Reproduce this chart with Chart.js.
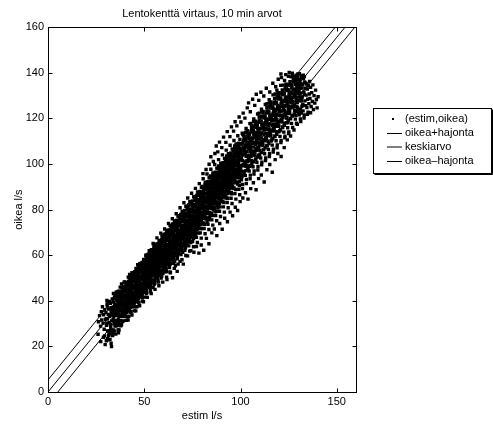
<!DOCTYPE html>
<html lang="fi">
<head>
<meta charset="utf-8">
<title>Lentokenttä virtaus</title>
<script src="https://cdn.jsdelivr.net/npm/chart.js@4.4.1/dist/chart.umd.min.js"></script>
<style>
  html, body { margin: 0; padding: 0; background: #fff; }
  canvas { display: block; }
</style>
</head>
<body>
<canvas id="virtausKuva" width="493" height="426"></canvas>
<script>
// akselien jaot
const xTiks = [0, 50, 100, 150];
const yTiks = [0, 20, 40, 60, 80, 100, 120, 140, 160];

// suorat: oikea = kulmakerroin * estim + vakio (+/- hajonta)
const kulmakerroin = 1.037;
const vakio = 0;
const hajonta = 5.3;
const viivanX = [0, 160];

const selitteet = ["(estim,oikea)", "oikea+hajonta", "keskiarvo", "oikea\u2013hajonta"];

// mittauspisteet [estim, oikea], luettu kuvasta
const alkuPisteet = [
  [26.2,30.8],[26.8,33.5],[27.3,28.9],[27.7,35.2],[27.9,31.6],
  [28.3,37.4],[28.6,30.2],[28.9,33.9],[29.2,27.5],[29.5,36.1],[29.8,31.9],[29.4,24.6],
  [30.1,34.8],[30.4,29.3],[30.7,38.6],[30.9,32.1],[31.2,26.8],[31.5,36.4],[31.8,30.5],[31.3,22.9],[30.6,40.2],
  [32.1,33.7],[32.4,38.9],[32.6,28.4],[32.9,35.6],[33.1,31.2],[33.4,40.8],[33.7,26.1],[33.9,37.3],[32.8,21.4],[33.5,34.2],
  [26.0,25.3],[27.4,22.1],[28.8,24.0],[29.7,20.8],[30.9,23.4],[32.2,25.7],[33.0,19.9],[34.1,27.2],[35.6,29.3],[36.6,26.0]
];

const keskiPisteet = [
  [34.1,36.9],[34.3,31.4],[34.6,41.7],[34.8,28.9],[35.0,38.2],[35.3,33.8],[35.5,43.1],[35.8,30.6],[35.2,25.4],[34.5,35.2],[35.9,39.9],
  [36.1,34.5],[36.3,40.6],[36.5,31.9],[36.8,44.2],[37.0,37.4],[37.2,29.8],[37.4,42.1],[37.6,35.7],[37.8,39.3],[36.9,27.2],[37.5,46.0],[36.4,38.1],
  [38.1,36.2],[38.3,42.8],[38.5,33.4],[38.7,45.6],[38.9,39.1],[39.1,31.2],[39.3,44.0],[39.5,37.5],[39.7,48.3],[39.9,34.9],[38.6,40.7],[39.4,41.9],[38.2,29.5],
  [40.1,38.6],[40.3,44.9],[40.5,35.1],[40.7,47.2],[40.9,41.4],[41.1,33.0],[41.3,46.1],[41.5,39.3],[41.7,50.4],[41.9,36.8],[40.4,42.3],[41.2,43.6],[40.8,37.7],[41.6,31.6],
  [42.1,40.2],[42.3,46.8],[42.5,37.0],[42.7,49.1],[42.9,43.5],[43.1,35.2],[43.3,48.0],[43.5,41.6],[43.7,52.3],[43.9,38.7],[42.4,44.6],[43.2,45.4],[42.8,39.5],[43.6,33.8],[43.0,50.6],
  [44.1,42.4],[44.3,48.7],[44.5,39.0],[44.7,51.4],[44.9,45.3],[45.1,37.4],[45.3,50.1],[45.5,43.2],[45.7,54.2],[45.9,40.9],[44.4,46.6],[45.2,47.5],[44.8,41.3],[45.6,35.6],[45.0,52.8],[45.8,44.7],
  [46.1,44.3],[46.3,50.9],[46.5,41.2],[46.7,53.3],[46.9,47.6],[47.1,39.1],[47.3,52.0],[47.5,45.4],[47.7,56.3],[47.9,42.8],[46.4,48.5],[47.2,49.3],[46.8,43.1],[47.6,37.8],[47.0,54.9],[47.8,46.6],
  [48.1,46.5],[48.3,52.7],[48.5,43.0],[48.7,55.6],[48.9,49.4],[49.1,41.3],[49.3,54.2],[49.5,47.3],[49.7,58.1],[49.9,44.6],[48.4,50.6],[49.2,51.1],[48.8,45.2],[49.6,39.6],[49.0,56.8],[49.8,48.7],
  [50.1,48.2],[50.3,54.6],[50.5,45.1],[50.7,57.4],[50.9,51.5],[51.1,43.2],[51.3,56.0],[51.5,49.6],[51.7,60.2],[51.9,46.4],[50.4,52.3],[51.2,53.3],[50.8,47.0],[51.6,41.5],[51.0,58.7],[51.8,50.9],
  [52.1,50.6],[52.3,56.4],[52.5,47.2],[52.7,59.3],[52.9,53.1],[53.1,45.3],[53.3,58.2],[53.5,51.4],[53.7,62.4],[53.9,48.5],[52.4,54.7],[53.2,55.1],[52.8,49.1],[53.6,43.2],[53.0,60.6],[53.8,52.8],[52.6,62.0],
  [54.1,52.3],[54.3,58.8],[54.5,49.0],[54.7,61.2],[54.9,55.4],[55.1,47.1],[55.3,60.3],[55.5,53.5],[55.7,64.7],[55.9,50.3],[54.4,56.6],[55.2,57.2],[54.8,51.2],[55.6,45.0],[55.0,62.8],[55.8,54.9],[54.6,65.1],
  [56.1,54.5],[56.3,60.7],[56.5,51.1],[56.7,63.4],[56.9,57.2],[57.1,49.0],[57.3,62.4],[57.5,55.6],[57.7,66.5],[57.9,52.4],[56.4,58.8],[57.2,59.0],[56.8,53.3],[57.6,46.6],[57.0,64.9],[57.8,56.7],[56.6,67.6],
  [58.1,56.2],[58.3,62.9],[58.5,53.0],[58.7,65.6],[58.9,59.3],[59.1,50.8],[59.3,64.5],[59.5,57.4],[59.7,68.4],[59.9,54.3],[58.4,60.7],[59.2,61.2],[58.8,55.0],[59.6,48.2],[59.0,66.8],[59.8,58.6],[58.6,69.7],[59.4,52.1],
  [60.1,58.3],[60.3,64.8],[60.5,54.9],[60.7,67.5],[60.9,61.2],[61.1,52.7],[61.3,66.3],[61.5,59.5],[61.7,70.6],[61.9,56.2],[60.4,62.6],[61.2,63.4],[60.8,57.1],[61.6,50.4],[61.0,68.9],[61.8,60.8],[60.6,71.5],[61.4,54.0],
  [62.1,60.4],[62.3,67.0],[62.5,56.8],[62.7,69.7],[62.9,63.3],[63.1,54.6],[63.3,68.2],[63.5,61.3],[63.7,72.8],[63.9,58.1],[62.4,64.5],[63.2,65.6],[62.8,59.0],[63.6,52.3],[63.0,71.1],[63.8,62.7],[62.6,73.9],[63.4,56.0],
  [64.1,62.2],[64.3,68.9],[64.5,58.7],[64.7,71.8],[64.9,65.4],[65.1,56.5],[65.3,70.4],[65.5,63.2],[65.7,74.9],[65.9,60.0],[64.4,66.7],[65.2,67.4],[64.8,61.1],[65.6,54.2],[65.0,73.2],[65.8,64.6],[64.6,76.0],[65.4,58.0],
  [66.1,64.4],[66.3,71.0],[66.5,60.6],[66.7,73.7],[66.9,67.3],[67.1,58.4],[67.3,72.5],[67.5,65.4],[67.7,77.1],[67.9,62.1],[66.4,68.6],[67.2,69.5],[66.8,63.0],[67.6,56.1],[67.0,75.3],[67.8,66.8],[66.6,78.2],[67.4,60.2],
  [68.1,66.3],[68.3,73.1],[68.5,62.5],[68.7,75.9],[68.9,69.4],[69.1,60.3],[69.3,74.6],[69.5,67.2],[69.7,79.3],[69.9,64.0],[68.4,70.7],[69.2,71.3],[68.8,65.1],[69.6,58.0],[69.0,77.4],[69.8,68.6],[68.6,80.8],[69.4,62.3],
  [70.1,68.5],[70.3,75.0],[70.5,64.4],[70.7,78.1],[70.9,71.5],[71.1,62.2],[71.3,76.7],[71.5,69.3],[71.7,81.4],[71.9,66.1],[70.4,72.6],[71.2,73.5],[70.8,67.0],[71.6,59.9],[71.0,79.6],[71.8,70.7],[70.6,83.0],[71.4,64.1],
  [72.1,70.4],[72.3,77.2],[72.5,66.3],[72.7,80.0],[72.9,73.6],[73.1,64.1],[73.3,78.8],[73.5,71.4],[73.7,83.5],[73.9,68.2],[72.4,74.7],[73.2,75.4],[72.8,69.1],[73.6,61.8],[73.0,81.7],[73.8,72.6],[72.6,85.1],[73.4,66.0],
  [74.1,72.6],[74.3,79.1],[74.5,68.2],[74.7,82.2],[74.9,75.5],[75.1,66.0],[75.3,80.9],[75.5,73.3],[75.7,85.6],[75.9,70.1],[74.4,76.8],[75.2,77.6],[74.8,71.0],[75.6,63.7],[75.0,83.8],[75.8,74.8],[74.6,87.2],[75.4,67.9],
  [76.1,74.5],[76.3,81.3],[76.5,70.1],[76.7,84.1],[76.9,77.6],[77.1,67.9],[77.3,83.0],[77.5,75.4],[77.7,87.7],[77.9,72.2],[76.4,78.7],[77.2,79.5],[76.8,73.1],[77.6,65.6],[77.0,85.9],[77.8,76.7],[76.6,89.3],[77.4,69.8],
  [78.1,76.6],[78.3,83.2],[78.5,72.0],[78.7,86.3],[78.9,79.5],[79.1,69.8],[79.3,85.1],[79.5,77.3],[79.7,89.8],[79.9,74.1],[78.4,80.8],[79.2,81.6],[78.8,75.0],[79.6,67.5],[79.0,88.0],[79.8,78.6],[78.6,91.4],[79.4,71.7],
  [80.1,78.4],[80.3,85.3],[80.5,74.1],[80.7,88.2],[80.9,81.6],[81.1,71.7],[81.3,87.2],[81.5,79.2],[81.7,91.9],[81.9,76.0],[80.4,82.7],[81.2,83.5],[80.8,77.1],[81.6,69.4],[81.0,90.1],[81.8,80.5],[80.6,93.5],[81.4,73.6],
  [82.1,80.5],[82.3,87.2],[82.5,76.0],[82.7,90.4],[82.9,83.5],[83.1,73.6],[83.3,89.1],[83.5,81.3],[83.7,94.0],[83.9,78.1],[82.4,84.6],[83.2,85.6],[82.8,79.0],[83.6,71.3],[83.0,92.2],[83.8,82.4],[82.6,95.6],[83.4,75.5],
  [84.1,82.3],[84.3,89.4],[84.5,77.9],[84.7,92.3],[84.9,85.6],[85.1,75.5],[85.3,91.2],[85.5,83.2],[85.7,96.1],[85.9,80.0],[84.4,86.7],[85.2,87.5],[84.8,81.1],[85.6,73.2],[85.0,94.3],[85.8,84.5],[84.6,97.7],[85.4,77.4],
  [86.1,84.4],[86.3,91.3],[86.5,79.8],[86.7,94.5],[86.9,87.5],[87.1,77.4],[87.3,93.3],[87.5,85.3],[87.7,98.2],[87.9,82.1],[86.4,88.8],[87.2,89.4],[86.8,83.0],[87.6,75.1],[87.0,96.4],[87.8,86.4],[86.6,99.8],[87.4,79.3],
  [88.1,86.5],[88.3,93.5],[88.5,81.7],[88.7,96.4],[88.9,89.6],[89.1,79.3],[89.3,95.4],[89.5,87.2],[89.7,100.3],[89.9,84.0],[88.4,90.7],[89.2,91.5],[88.8,85.1],[89.6,77.0],[89.0,98.5],[89.8,88.5],[88.6,101.9],[89.4,81.2],
  [90.1,88.3],[90.3,95.4],[90.5,83.6],[90.7,98.6],[90.9,91.5],[91.1,81.2],[91.3,97.5],[91.5,89.4],[91.7,102.4],[91.9,86.1],[90.4,92.8],[91.2,93.4],[90.8,87.0],[91.6,78.9],[91.0,100.6],[91.8,90.6],[90.6,104.0],[91.4,83.1],
  [92.1,90.4],[92.3,97.6],[92.5,85.5],[92.7,100.5],[92.9,93.4],[93.1,83.1],[93.3,99.6],[93.5,91.3],[93.7,104.5],[93.9,88.0],[92.4,94.7],[93.2,95.5],[92.8,89.1],[93.6,80.8],[93.0,102.7],[93.8,92.5],[92.6,106.1],[93.4,85.0],
  [94.1,92.5],[94.3,99.5],[94.5,87.4],[94.7,102.7],[94.9,95.5],[95.1,85.0],[95.3,101.7],[95.5,93.2],[95.7,106.6],[95.9,90.1],[94.4,96.8],[95.2,97.4],[94.8,91.0],[95.6,82.7],[95.0,104.8],[95.8,94.4],[94.6,108.2],[95.4,86.9],
  [96.1,94.3],[96.3,101.6],[96.5,89.3],[96.7,104.6],[96.9,97.4],[97.1,87.0],[97.3,103.5],[97.5,95.3],[97.7,108.7],[97.9,92.0],[96.4,98.6],[97.2,99.5],[96.8,93.1],[97.6,84.6],[97.0,106.9],[97.8,96.5],[96.6,110.3],[97.4,88.8],
  [98.1,96.4],[98.3,103.5],[98.5,91.2],[98.7,106.8],[98.9,99.5],[99.1,88.9],[99.3,105.6],[99.5,97.2],[99.7,110.8],[99.9,94.1],[98.4,100.7],[99.2,101.4],[98.8,95.0],[99.6,86.5],[99.0,108.9],[99.8,98.4],[98.6,112.4],[99.4,90.7]
];

const ylaPisteet = [
  [100.1,98.6],[100.3,105.4],[100.5,93.1],[100.7,108.7],[100.9,101.6],[101.1,91.0],[101.3,107.3],[101.5,99.2],[101.7,112.5],[101.9,96.0],[100.4,102.8],[101.2,103.9],[100.8,95.2],[101.6,110.2],[101.0,89.2],
  [102.1,100.5],[102.3,107.5],[102.5,95.0],[102.7,110.6],[102.9,103.4],[103.1,93.2],[103.3,109.4],[103.5,101.1],[103.7,114.6],[103.9,98.1],[102.4,104.9],[103.2,105.6],[102.8,97.1],[103.6,112.0],[103.0,91.4],
  [104.1,102.7],[104.3,109.6],[104.5,96.9],[104.7,112.8],[104.9,105.5],[105.1,95.1],[105.3,111.2],[105.5,103.3],[105.7,116.5],[105.9,100.2],[104.4,106.8],[105.2,107.7],[104.8,99.0],[105.6,114.1],[105.0,93.5],
  [106.1,104.6],[106.3,111.4],[106.5,98.8],[106.7,114.7],[106.9,107.4],[107.1,97.0],[107.3,113.3],[107.5,105.2],[107.7,118.7],[107.9,102.1],[106.4,108.9],[107.2,109.6],[106.8,101.0],[107.6,116.2],[107.0,95.6],
  [108.1,106.8],[108.3,113.5],[108.5,100.7],[108.7,116.9],[108.9,109.3],[109.1,98.9],[109.3,115.4],[109.5,107.1],[109.7,120.6],[109.9,104.0],[108.4,110.8],[109.2,111.7],[108.8,103.1],[109.6,118.3],[109.0,97.4],
  [110.1,108.5],[110.3,115.6],[110.5,102.6],[110.7,118.8],[110.9,111.4],[111.1,100.8],[111.3,117.2],[111.5,109.3],[111.7,122.7],[111.9,106.2],[110.4,112.7],[111.2,113.6],[110.8,105.0],[111.6,120.4],[111.0,99.6],
  [112.1,110.7],[112.3,117.4],[112.5,104.5],[112.7,120.9],[112.9,113.3],[113.1,102.7],[113.3,119.3],[113.5,111.1],[113.7,124.8],[113.9,108.0],[112.4,114.9],[113.2,115.5],[112.8,107.1],[113.6,122.3],[113.0,101.5],
  [114.1,112.6],[114.3,119.5],[114.5,106.4],[114.7,122.8],[114.9,115.4],[115.1,104.6],[115.3,121.1],[115.5,113.2],[115.7,126.6],[115.9,110.1],[114.4,116.7],[115.2,117.6],[114.8,109.0],[115.6,124.5],[115.0,103.3],
  [116.1,114.8],[116.3,121.3],[116.5,108.3],[116.7,124.9],[116.9,117.3],[117.1,106.5],[117.3,123.2],[117.5,115.1],[117.7,128.7],[117.9,112.0],[116.4,118.8],[117.2,119.4],[116.8,111.1],[117.6,126.4],[117.0,105.2],
  [118.1,116.5],[118.3,123.4],[118.5,110.2],[118.7,126.8],[118.9,119.4],[119.1,108.4],[119.3,125.0],[119.5,117.3],[119.7,130.6],[119.9,114.1],[118.4,120.6],[119.2,121.5],[118.8,113.0],[119.6,128.5],[119.0,107.1],
  [120.1,118.7],[120.3,125.2],[120.5,112.1],[120.7,128.9],[120.9,121.3],[121.1,110.3],[121.3,127.1],[121.5,119.2],[121.7,132.5],[121.9,116.0],[120.4,122.8],[121.2,123.3],[120.8,115.0],[121.6,130.4],[121.0,109.4],
  [122.1,120.4],[122.3,127.3],[122.5,114.0],[122.7,130.8],[122.9,123.5],[123.1,112.2],[123.3,129.0],[123.5,121.1],[123.7,134.4],[123.9,118.1],[122.4,124.7],[123.2,125.4],[122.8,117.0],[123.6,132.3],[123.0,111.5],
  [124.1,122.6],[124.3,129.1],[124.5,115.9],[124.7,132.7],[124.9,125.4],[125.1,114.1],[125.3,131.0],[125.5,123.2],[125.7,136.1],[125.9,120.0],[124.4,126.6],[125.2,127.5],[124.8,119.1],[125.6,134.5],[125.0,113.3],
  [126.1,124.5],[126.3,130.9],[126.5,117.8],[126.7,134.6],[126.9,127.3],[127.1,116.0],[127.3,132.8],[127.5,125.1],[127.7,137.6],[127.9,121.9],[126.4,128.7],[127.2,129.4],[126.8,121.0],[127.6,135.9],[127.0,138.4],
  [128.1,126.3],[128.3,132.6],[128.5,119.7],[128.7,136.4],[128.9,129.2],[129.1,117.9],[129.3,134.1],[129.5,126.9],[129.7,138.1],[129.9,123.8],[128.4,130.5],[129.2,131.3],[128.8,122.9],[129.6,136.8],[129.0,137.2],
  [130.1,127.9],[130.3,133.7],[130.5,121.6],[130.7,136.9],[130.9,130.8],[131.1,119.8],[131.3,135.2],[131.5,128.6],[131.7,137.8],[131.9,125.3],[130.4,132.1],[131.2,124.0],[130.8,134.5],[131.6,122.4],
  [132.1,129.4],[132.3,134.8],[132.5,123.3],[132.7,137.5],[132.9,131.6],[133.1,121.5],[133.3,136.0],[133.5,127.7],[133.7,133.2],[133.9,125.6],[132.4,126.1],[133.2,138.3],
  [134.1,130.2],[134.3,135.1],[134.5,124.8],[134.7,132.9],[134.9,128.4],[135.1,122.7],[135.3,134.4],[135.5,126.5],[135.7,130.7],[135.9,136.2],
  [136.1,128.8],[136.4,133.6],[136.7,125.2],[137.0,131.3],[137.3,127.4],[137.6,134.7],[137.9,123.9],
  [138.2,130.0],[138.6,126.7],[139.0,132.4],[139.4,128.3],[139.8,124.6],[140.3,129.5]
];

// tihein ydin
const ydinPisteet = [
  [34.2,33.1],[34.7,38.4],[35.0,30.9],[35.4,36.0],[35.7,40.3],[34.4,41.0],[35.9,33.6],[35.1,37.8],
  [36.2,35.6],[36.6,41.5],[36.9,33.2],[37.3,38.7],[37.7,43.4],[36.5,44.1],[37.9,36.3],[37.1,40.6],[36.0,31.4],
  [38.0,37.9],[38.4,43.9],[38.8,35.2],[39.2,40.8],[39.6,45.2],[38.3,46.0],[39.8,38.0],[39.0,42.7],[38.9,33.1],[39.5,36.4],
  [40.0,39.8],[40.4,45.9],[40.8,37.2],[41.2,42.6],[41.6,47.1],[40.3,48.0],[41.8,40.0],[41.0,44.6],[40.9,35.0],[41.5,38.4],
  [42.0,41.7],[42.4,47.8],[42.8,39.3],[43.2,44.5],[43.6,49.0],[42.3,50.0],[43.8,42.1],[43.0,46.5],[42.9,37.0],[43.5,40.4],
  [44.0,43.8],[44.4,49.9],[44.8,41.1],[45.2,46.4],[45.6,51.2],[44.3,52.0],[45.8,43.9],[45.0,48.6],[44.9,39.0],[45.5,42.5],
  [46.0,45.7],[46.4,51.8],[46.8,43.2],[47.2,48.5],[47.6,53.1],[46.3,54.0],[47.8,46.0],[47.0,50.4],[46.9,41.0],[47.5,44.4],
  [48.0,47.8],[48.4,53.9],[48.8,45.0],[49.2,50.3],[49.6,55.0],[48.3,56.0],[49.8,47.9],[49.0,52.5],[48.9,43.0],[49.5,46.5],
  [50.0,49.7],[50.4,55.8],[50.8,47.1],[51.2,52.4],[51.6,57.2],[50.3,58.0],[51.8,50.0],[51.0,54.4],[50.9,45.0],[51.5,48.3],
  [52.0,51.8],[52.4,57.9],[52.8,49.0],[53.2,54.3],[53.6,59.1],[52.3,60.0],[53.8,51.9],[53.0,56.6],[52.9,47.0],[53.5,50.5],
  [54.0,53.7],[54.4,59.8],[54.8,51.2],[55.2,56.5],[55.6,61.0],[54.3,62.0],[55.8,54.0],[55.0,58.4],[54.9,49.0],[55.5,52.4],
  [56.0,55.8],[56.4,61.9],[56.8,53.1],[57.2,58.4],[57.6,63.2],[56.3,64.0],[57.8,55.9],[57.0,60.5],[56.9,51.0],[57.5,54.5],
  [58.0,57.7],[58.4,63.8],[58.8,55.0],[59.2,60.3],[59.6,65.1],[58.3,66.0],[59.8,58.0],[59.0,62.6],[58.9,53.0],[59.5,56.3],
  [60.0,60.1],[60.4,66.3],[60.8,57.6],[61.2,63.0],[61.6,67.8],[60.3,69.0],[61.8,60.5],[61.0,65.2],[60.9,55.6],[61.5,58.9],
  [62.0,62.2],[62.4,68.4],[62.8,59.5],[63.2,64.9],[63.6,69.7],[62.3,71.0],[63.8,62.4],[63.0,67.1],[62.9,57.5],[63.5,61.0],
  [64.0,64.1],[64.4,70.2],[64.8,61.7],[65.2,67.0],[65.6,71.9],[64.3,73.0],[65.8,64.5],[65.0,69.3],[64.9,59.6],[65.5,62.8],
  [66.0,66.2],[66.4,72.4],[66.8,63.6],[67.2,68.8],[67.6,73.8],[66.3,75.0],[67.8,66.3],[67.0,71.2],[66.9,61.5],[67.5,65.0],
  [68.0,68.1],[68.4,74.3],[68.8,65.5],[69.2,70.9],[69.6,75.7],[68.3,77.0],[69.8,68.4],[69.0,73.1],[68.9,63.4],[69.5,66.9],
  [70.0,70.2],[70.4,76.4],[70.8,67.6],[71.2,72.8],[71.6,77.9],[70.3,79.0],[71.8,70.5],[71.0,75.2],[70.9,65.6],[71.5,69.0],
  [72.0,72.1],[72.4,78.2],[72.8,69.6],[73.2,74.9],[73.6,79.8],[72.3,81.0],[73.8,72.4],[73.0,77.1],[72.9,67.5],[73.5,70.9],
  [74.0,74.2],[74.4,80.3],[74.8,71.5],[75.2,76.8],[75.6,81.7],[74.3,83.0],[75.8,74.6],[75.0,79.3],[74.9,69.6],[75.5,73.0],
  [76.0,76.1],[76.4,82.4],[76.8,73.6],[77.2,78.9],[77.6,83.9],[76.3,85.0],[77.8,76.5],[77.0,81.2],[76.9,71.5],[77.5,74.9],
  [78.0,78.2],[78.4,84.3],[78.8,75.5],[79.2,80.8],[79.6,85.8],[78.3,87.0],[79.8,78.6],[79.0,83.3],[78.9,73.6],[79.5,77.0],
  [80.0,81.1],[80.4,87.2],[80.8,78.6],[81.2,84.0],[81.6,88.9],[80.3,90.0],[81.8,81.5],[81.0,86.2],[80.9,76.6],[81.5,79.9],
  [82.0,83.2],[82.4,89.3],[82.8,80.5],[83.2,85.9],[83.6,90.8],[82.3,92.0],[83.8,83.4],[83.0,88.1],[82.9,78.5],[83.5,82.0],
  [84.0,85.1],[84.4,91.4],[84.8,82.6],[85.2,87.8],[85.6,92.7],[84.3,94.0],[85.8,85.5],[85.0,90.2],[84.9,80.6],[85.5,83.9],
  [86.0,87.2],[86.4,93.3],[86.8,84.5],[87.2,89.9],[87.6,94.9],[86.3,96.0],[87.8,87.4],[87.0,92.1],[86.9,82.5],[87.5,86.0],
  [88.0,89.1],[88.4,95.2],[88.8,86.6],[89.2,91.8],[89.6,96.8],[88.3,98.0],[89.8,89.5],[89.0,94.3],[88.9,84.6],[89.5,87.9],
  [90.0,91.2],[90.4,97.4],[90.8,88.5],[91.2,93.9],[91.6,98.7],[90.3,100.0],[91.8,91.4],[91.0,96.2],[90.9,86.5],[91.5,90.0],
  [92.0,93.1],[92.4,99.3],[92.8,90.6],[93.2,95.8],[93.6,100.9],[92.3,102.0],[93.8,93.5],[93.0,98.1],[92.9,88.6],[93.5,91.9],
  [94.0,95.2],[94.4,101.2],[94.8,92.5],[95.2,97.9],[95.6,102.8],[94.3,104.0],[95.8,95.4],[95.0,100.3],[94.9,90.5],[95.5,94.0],
  [96.0,97.1],[96.4,103.4],[96.8,94.6],[97.2,99.8],[97.6,104.7],[96.3,106.0],[97.8,97.5],[97.0,102.2],[96.9,92.6],[97.5,95.9],
  [98.0,99.2],[98.4,105.3],[98.8,96.5],[99.2,101.9],[99.6,106.9],[98.3,108.0],[99.8,99.4],[99.0,104.1],[98.9,94.5],[99.5,98.0],
  [100.2,103.0],[100.6,108.9],[101.0,99.4],[101.4,106.2],[101.8,111.0],[100.9,113.5],
  [102.2,105.1],[102.6,110.8],[103.0,101.3],[103.4,108.1],[103.8,113.2],[102.9,115.6],
  [104.2,107.0],[104.6,112.9],[105.0,103.5],[105.4,110.3],[105.8,115.1],[104.9,117.7],
  [106.2,109.2],[106.6,114.8],[107.0,105.4],[107.4,112.2],[107.8,117.3],[106.9,119.8],
  [108.2,111.1],[108.6,116.9],[109.0,107.3],[109.4,114.1],[109.8,119.2],[108.9,121.9],
  [110.2,113.2],[110.6,118.8],[111.0,109.5],[111.4,116.3],[111.8,121.1],[110.9,124.0],
  [112.2,115.1],[112.6,120.9],[113.0,111.4],[113.4,118.2],[113.8,123.3],[112.9,126.1],
  [114.2,117.3],[114.6,122.8],[115.0,113.3],[115.4,120.1],[115.8,125.2],[114.9,128.2],
  [116.2,119.2],[116.6,124.9],[117.0,115.5],[117.4,122.3],[117.8,127.1],[116.9,130.3],
  [118.2,121.1],[118.6,126.8],[119.0,117.4],[119.4,124.2],[119.8,129.3],[118.9,132.4],
  [120.2,123.3],[120.6,128.9],[121.0,119.3],[121.4,126.1],[121.8,131.2],[120.9,134.5],[121.3,137.9],
  [122.2,125.2],[122.6,130.7],[123.0,121.5],[123.4,128.3],[123.8,133.1],[122.9,136.6],[123.5,139.2],
  [124.2,127.1],[124.6,132.2],[125.0,123.4],[125.4,129.8],[125.8,134.9],[124.9,138.5],[125.3,140.1],
  [126.2,128.6],[126.6,133.4],[127.0,125.0],[127.4,131.1],[127.8,136.7],[126.9,139.8],
  [128.2,129.9],[128.6,134.8],[129.0,127.6],[129.4,132.3],[129.8,139.5],[128.9,138.9],
  [130.2,131.0],[130.8,135.8],[131.4,129.3],[132.0,133.4],[132.6,139.0],[133.2,130.5],[133.8,135.6]
];

// lisää pisteitä nauhan sisälle, eri jaksotuksella
const lisaPisteet = [
  [30.3,22.5],[31.0,26.7],[30.6,30.2],[31.3,34.0],[30.8,37.7],[31.5,24.8],[30.5,32.2],[31.2,39.6],
  [31.7,25.1],[32.4,29.5],[32.0,33.1],[32.7,37.0],[32.2,23.0],[32.9,34.8],[31.9,39.7],[32.6,26.9],
  [33.1,27.2],[33.8,31.8],[33.4,36.5],[34.1,39.5],[33.6,24.8],[34.3,30.1],[33.3,33.8],[34.0,43.2],
  [34.5,26.7],[35.2,30.9],[34.8,34.4],[35.5,38.2],[35.0,41.9],[35.7,29.0],[34.7,36.4],[35.4,43.8],
  [35.9,29.3],[36.6,33.7],[36.2,37.3],[36.9,41.2],[36.4,27.2],[37.1,39.0],[36.1,43.9],[36.8,31.1],
  [37.3,31.4],[38.0,36.0],[37.6,40.7],[38.3,43.7],[37.8,29.0],[38.5,34.3],[37.5,38.0],[38.2,47.4],
  [38.7,30.9],[39.4,35.1],[39.0,38.6],[39.7,42.4],[39.2,46.1],[39.9,33.2],[38.9,40.6],[39.6,48.0],
  [40.1,33.5],[40.8,37.9],[40.4,41.5],[41.1,45.4],[40.6,31.4],[41.3,43.2],[40.3,48.1],[41.0,35.3],
  [41.5,35.6],[42.2,40.2],[41.8,44.9],[42.5,47.9],[42.0,33.2],[42.7,38.5],[41.7,42.2],[42.4,51.6],
  [42.9,35.1],[43.6,39.3],[43.2,42.8],[43.9,46.6],[43.4,50.3],[44.1,37.4],[43.1,44.8],[43.8,52.2],
  [44.3,37.7],[45.0,42.1],[44.6,45.7],[45.3,49.6],[44.8,35.6],[45.5,47.4],[44.5,52.3],[45.2,39.5],
  [45.7,39.8],[46.4,44.4],[46.0,49.1],[46.7,52.1],[46.2,37.4],[46.9,42.7],[45.9,46.4],[46.6,55.8],
  [47.1,39.3],[47.8,43.5],[47.4,47.0],[48.1,50.8],[47.6,54.5],[48.3,41.6],[47.3,49.0],[48.0,56.4],
  [48.5,41.9],[49.2,46.3],[48.8,49.9],[49.5,53.8],[49.0,39.8],[49.7,51.6],[48.7,56.5],[49.4,43.7],
  [49.9,44.0],[50.6,48.6],[50.2,53.3],[50.9,56.3],[50.4,41.6],[51.1,46.9],[50.1,50.6],[50.8,60.0],
  [51.3,43.5],[52.0,47.7],[51.6,51.2],[52.3,55.0],[51.8,58.7],[52.5,45.8],[51.5,53.2],[52.2,60.6],
  [52.7,46.1],[53.4,50.5],[53.0,54.1],[53.7,58.0],[53.2,44.0],[53.9,55.8],[52.9,60.7],[53.6,47.9],
  [54.1,48.2],[54.8,52.8],[54.4,57.5],[55.1,60.5],[54.6,45.8],[55.3,51.1],[54.3,54.8],[55.0,64.2],
  [55.5,47.7],[56.2,51.9],[55.8,55.4],[56.5,59.2],[56.0,62.9],[56.7,50.0],[55.7,57.4],[56.4,64.8],
  [56.9,50.3],[57.6,54.7],[57.2,58.3],[57.9,62.2],[57.4,48.2],[58.1,60.0],[57.1,64.9],[57.8,52.1],
  [58.3,52.4],[59.0,57.0],[58.6,61.7],[59.3,64.7],[58.8,50.0],[59.5,55.3],[58.5,59.0],[59.2,68.4],
  [59.7,52.1],[60.4,56.3],[60.0,59.8],[60.7,63.6],[60.2,67.3],[60.9,54.4],[59.9,61.8],[60.6,69.2],
  [61.1,54.9],[61.8,59.3],[61.4,62.9],[62.1,66.8],[61.6,52.8],[62.3,64.6],[61.3,69.5],[62.0,56.7],
  [62.5,57.1],[63.2,61.7],[62.8,66.4],[63.5,69.4],[63.0,54.7],[63.7,60.0],[62.7,63.7],[63.4,73.1],
  [63.9,56.6],[64.6,60.8],[64.2,64.3],[64.9,68.1],[64.4,71.8],[65.1,58.9],[64.1,66.3],[64.8,73.7],
  [65.3,59.2],[66.0,63.6],[65.6,67.2],[66.3,71.1],[65.8,57.1],[66.5,68.9],[65.5,73.8],[66.2,61.0],
  [66.7,61.3],[67.4,65.9],[67.0,70.6],[67.7,73.6],[67.2,58.9],[67.9,64.2],[66.9,67.9],[67.6,77.3],
  [68.1,60.8],[68.8,65.0],[68.4,68.5],[69.1,72.3],[68.6,76.0],[69.3,63.1],[68.3,70.5],[69.0,77.9],
  [69.5,63.4],[70.2,67.8],[69.8,71.4],[70.5,75.3],[70.0,61.3],[70.7,73.1],[69.7,78.0],[70.4,65.2],
  [70.9,65.5],[71.6,70.1],[71.2,74.8],[71.9,77.8],[71.4,63.1],[72.1,68.4],[71.1,72.1],[71.8,81.5],
  [72.3,65.0],[73.0,69.2],[72.6,72.7],[73.3,76.5],[72.8,80.2],[73.5,67.3],[72.5,74.7],[73.2,82.1],
  [73.7,67.6],[74.4,72.0],[74.0,75.6],[74.7,79.5],[74.2,65.5],[74.9,77.3],[73.9,82.2],[74.6,69.4],
  [75.1,69.7],[75.8,74.3],[75.4,79.0],[76.1,82.0],[75.6,67.3],[76.3,72.6],[75.3,76.3],[76.0,85.7],
  [76.5,69.2],[77.2,73.4],[76.8,76.9],[77.5,80.7],[77.0,84.4],[77.7,71.5],[76.7,78.9],[77.4,86.3],
  [77.9,71.8],[78.6,76.2],[78.2,79.8],[78.9,83.7],[78.4,69.7],[79.1,81.5],[78.1,86.4],[78.8,73.6],
  [79.3,74.1],[80.0,78.7],[79.6,83.4],[80.3,86.4],[79.8,71.7],[80.5,77.0],[79.5,80.7],[80.2,90.1],
  [80.7,73.9],[81.4,78.1],[81.0,81.6],[81.7,85.4],[81.2,89.1],[81.9,76.2],[80.9,83.6],[81.6,91.0],
  [82.1,76.6],[82.8,81.0],[82.4,84.6],[83.1,88.5],[82.6,74.5],[83.3,86.3],[82.3,91.2],[83.0,78.4],
  [83.5,78.8],[84.2,83.4],[83.8,88.1],[84.5,91.1],[84.0,76.4],[84.7,81.7],[83.7,85.4],[84.4,94.8],
  [84.9,78.4],[85.6,82.6],[85.2,86.1],[85.9,89.9],[85.4,93.6],[86.1,80.7],[85.1,88.1],[85.8,95.5],
  [86.3,81.1],[87.0,85.5],[86.6,89.1],[87.3,93.0],[86.8,79.0],[87.5,90.8],[86.5,95.7],[87.2,82.9],
  [87.7,83.2],[88.4,87.8],[88.0,92.5],[88.7,95.5],[88.2,80.8],[88.9,86.1],[87.9,89.8],[88.6,99.2],
  [89.1,82.8],[89.8,87.0],[89.4,90.5],[90.1,94.3],[89.6,98.0],[90.3,85.1],[89.3,92.5],[90.0,99.9],
  [90.5,85.4],[91.2,89.8],[90.8,93.4],[91.5,97.3],[91.0,83.3],[91.7,95.1],[90.7,100.0],[91.4,87.2],
  [91.9,87.5],[92.6,92.1],[92.2,96.8],[92.9,99.8],[92.4,85.1],[93.1,90.4],[92.1,94.1],[92.8,103.5],
  [93.3,87.0],[94.0,91.2],[93.6,94.7],[94.3,98.5],[93.8,102.2],[94.5,89.3],[93.5,96.7],[94.2,104.1],
  [94.7,89.6],[95.4,94.0],[95.0,97.6],[95.7,101.5],[95.2,87.5],[95.9,99.3],[94.9,104.2],[95.6,91.4],
  [96.1,91.9],[96.8,96.5],[96.4,101.2],[97.1,104.2],[96.6,89.5],[97.3,94.8],[96.3,98.5],[97.0,107.9],
  [97.5,91.7],[98.2,95.9],[97.8,99.4],[98.5,103.2],[98.0,106.9],[98.7,94.0],[97.7,101.4],[98.4,108.8],
  [98.9,94.5],[99.6,98.9],[99.2,102.5],[99.9,106.4],[99.4,92.4],[100.1,104.2],[99.1,109.1],[99.8,96.3],
  [100.3,96.9],[101.0,101.5],[100.6,106.2],[101.3,109.2],[100.8,94.5],[101.5,99.8],[100.5,103.5],[101.2,112.9],
  [101.7,96.7],[102.4,100.9],[102.0,104.4],[102.7,108.2],[102.2,111.9],[102.9,99.0],[101.9,106.4],[102.6,113.8],
  [103.1,99.5],[103.8,103.9],[103.4,107.5],[104.1,111.4],[103.6,97.4],[104.3,109.2],[103.3,114.1],[104.0,101.3],
  [104.5,101.8],[105.2,106.4],[104.8,111.1],[105.5,114.1],[105.0,99.4],[105.7,104.7],[104.7,108.4],[105.4,117.8],
  [105.9,101.5],[106.6,105.7],[106.2,109.2],[106.9,113.0],[106.4,116.7],[107.1,103.8],[106.1,111.2],[106.8,118.6],
  [107.3,104.2],[108.0,108.6],[107.6,112.2],[108.3,116.1],[107.8,102.1],[108.5,113.9],[107.5,118.8],[108.2,106.0],
  [108.7,106.3],[109.4,110.9],[109.0,115.6],[109.7,118.6],[109.2,103.9],[109.9,109.2],[108.9,112.9],[109.6,122.3],
  [110.1,105.8],[110.8,110.0],[110.4,113.5],[111.1,117.3],[110.6,121.0],[111.3,108.1],[110.3,115.5],[111.0,122.9],
  [111.5,108.4],[112.2,112.8],[111.8,116.4],[112.5,120.3],[112.0,106.3],[112.7,118.1],[111.7,123.0],[112.4,110.2],
  [112.9,110.5],[113.6,115.1],[113.2,119.8],[113.9,122.8],[113.4,108.1],[114.1,113.4],[113.1,117.1],[113.8,126.5],
  [114.3,110.0],[115.0,114.2],[114.6,117.7],[115.3,121.5],[114.8,125.2],[115.5,112.3],[114.5,119.7],[115.2,127.1],
  [115.7,112.6],[116.4,117.0],[116.0,120.6],[116.7,124.5],[116.2,110.5],[116.9,122.3],[115.9,127.2],[116.6,114.4],
  [117.1,114.7],[117.8,119.3],[117.4,124.0],[118.1,127.0],[117.6,112.3],[118.3,117.6],[117.3,121.3],[118.0,130.7],
  [118.5,114.2],[119.2,118.4],[118.8,121.9],[119.5,125.7],[119.0,129.4],[119.7,116.5],[118.7,123.9],[119.4,131.3],
  [119.9,116.7],[120.6,121.1],[120.2,124.7],[120.9,128.6],[120.4,114.6],[121.1,126.4],[120.1,131.3],[120.8,118.5],
  [121.3,118.6],[122.0,123.2],[121.6,127.9],[122.3,130.9],[121.8,116.2],[122.5,121.5],[121.5,125.2],[122.2,134.6],
  [122.7,117.9],[123.4,122.1],[123.0,125.6],[123.7,129.4],[123.2,133.1],[123.9,120.2],[122.9,127.6],[123.6,135.0],
  [124.1,120.3],[124.8,124.7],[124.4,128.3],[125.1,132.2],[124.6,118.2],[125.3,130.0],[124.3,134.9],[125.0,122.1],
  [125.5,122.2],[126.2,126.8],[125.8,131.5],[126.5,134.5],[126.0,119.8],[126.7,125.1],[125.7,128.8],[126.4,138.2],
  [126.9,121.3],[127.6,125.5],[127.2,129.0],[127.9,132.8],[127.4,136.5],[128.1,123.6],[127.1,131.0],[127.8,138.4],
  [128.3,123.4],[129.0,127.8],[128.6,131.4],[129.3,135.3],[128.8,121.3],[129.5,133.1],[128.5,138.0],[129.2,125.2],
  [129.7,124.8],[130.4,129.4],[130.0,134.1],[130.7,137.1],[130.2,122.4],[130.9,127.7],[129.9,131.4],[130.6,139.6],
  [131.1,123.5],[131.8,127.7],[131.4,131.2],[132.1,135.0],[131.6,138.7],[132.3,125.8],[131.3,133.2],[132.0,137.9]
];

// täytepisteet nauhan keskelle
const taytePisteet = [
  [36.4,31.3],[36.9,34.2],[36.1,36.9],[36.6,39.6],[36.3,42.1],[36.8,35.6],
  [37.9,33.2],[37.3,36.4],[37.6,39.4],[37.1,41.9],[37.8,31.3],[37.5,44.1],
  [38.6,33.5],[39.1,36.4],[38.3,39.1],[38.8,41.8],[38.5,44.3],[39.0,37.8],
  [40.1,35.4],[39.5,38.6],[39.8,41.6],[39.3,44.1],[40.0,33.5],[39.7,46.3],
  [40.8,35.7],[41.3,38.6],[40.5,41.3],[41.0,44.0],[40.7,46.5],[41.2,40.0],
  [42.3,37.6],[41.7,40.8],[42.0,43.8],[41.5,46.3],[42.2,35.7],[41.9,48.5],
  [43.0,37.9],[43.5,40.8],[42.7,43.5],[43.2,46.2],[42.9,48.7],[43.4,42.2],
  [44.5,39.8],[43.9,43.0],[44.2,46.0],[43.7,48.5],[44.4,37.9],[44.1,50.7],
  [45.2,40.1],[45.7,43.0],[44.9,45.7],[45.4,48.4],[45.1,50.9],[45.6,44.4],
  [46.7,42.0],[46.1,45.2],[46.4,48.2],[45.9,50.7],[46.6,40.1],[46.3,52.9],
  [47.4,42.3],[47.9,45.2],[47.1,47.9],[47.6,50.6],[47.3,53.1],[47.8,46.6],
  [48.9,44.2],[48.3,47.4],[48.6,50.4],[48.1,52.9],[48.8,42.3],[48.5,55.1],
  [49.6,44.5],[50.1,47.4],[49.3,50.1],[49.8,52.8],[49.5,55.3],[50.0,48.8],
  [51.1,46.4],[50.5,49.6],[50.8,52.6],[50.3,55.1],[51.0,44.5],[50.7,57.3],
  [51.8,46.7],[52.3,49.6],[51.5,52.3],[52.0,55.0],[51.7,57.5],[52.2,51.0],
  [53.3,48.6],[52.7,51.8],[53.0,54.8],[52.5,57.3],[53.2,46.7],[52.9,59.5],
  [54.0,48.9],[54.5,51.8],[53.7,54.5],[54.2,57.2],[53.9,59.7],[54.4,53.2],
  [55.5,50.8],[54.9,54.0],[55.2,57.0],[54.7,59.5],[55.4,48.9],[55.1,61.7],
  [56.2,51.1],[56.7,54.0],[55.9,56.7],[56.4,59.4],[56.1,61.9],[56.6,55.4],
  [57.7,53.0],[57.1,56.2],[57.4,59.2],[56.9,61.7],[57.6,51.1],[57.3,63.9],
  [58.4,53.3],[58.9,56.2],[58.1,58.9],[58.6,61.6],[58.3,64.1],[58.8,57.6],
  [59.9,55.3],[59.3,58.5],[59.6,61.5],[59.1,64.0],[59.8,53.4],[59.5,66.2],
  [60.6,55.8],[61.1,58.7],[60.3,61.4],[60.8,64.1],[60.5,66.6],[61.0,60.1],
  [62.1,57.8],[61.5,61.0],[61.8,64.0],[61.3,66.5],[62.0,55.9],[61.7,68.7],
  [62.8,58.2],[63.3,61.1],[62.5,63.8],[63.0,66.5],[62.7,69.0],[63.2,62.5],
  [64.3,60.1],[63.7,63.3],[64.0,66.3],[63.5,68.8],[64.2,58.2],[63.9,71.0],
  [65.0,60.4],[65.5,63.3],[64.7,66.0],[65.2,68.7],[64.9,71.2],[65.4,64.7],
  [66.5,62.3],[65.9,65.5],[66.2,68.5],[65.7,71.0],[66.4,60.4],[66.1,73.2],
  [67.2,62.6],[67.7,65.5],[66.9,68.2],[67.4,70.9],[67.1,73.4],[67.6,66.9],
  [68.7,64.5],[68.1,67.7],[68.4,70.7],[67.9,73.2],[68.6,62.6],[68.3,75.4],
  [69.4,64.8],[69.9,67.7],[69.1,70.4],[69.6,73.1],[69.3,75.6],[69.8,69.1],
  [70.9,66.7],[70.3,69.9],[70.6,72.9],[70.1,75.4],[70.8,64.8],[70.5,77.6],
  [71.6,67.0],[72.1,69.9],[71.3,72.6],[71.8,75.3],[71.5,77.8],[72.0,71.3],
  [73.1,68.9],[72.5,72.1],[72.8,75.1],[72.3,77.6],[73.0,67.0],[72.7,79.8],
  [73.8,69.2],[74.3,72.1],[73.5,74.8],[74.0,77.5],[73.7,80.0],[74.2,73.5],
  [75.3,71.1],[74.7,74.3],[75.0,77.3],[74.5,79.8],[75.2,69.2],[74.9,82.0],
  [76.0,71.4],[76.5,74.3],[75.7,77.0],[76.2,79.7],[75.9,82.2],[76.4,75.7],
  [77.5,73.3],[76.9,76.5],[77.2,79.5],[76.7,82.0],[77.4,71.4],[77.1,84.2],
  [78.2,73.6],[78.7,76.5],[77.9,79.2],[78.4,81.9],[78.1,84.4],[78.6,77.9],
  [79.7,75.6],[79.1,78.8],[79.4,81.8],[78.9,84.3],[79.6,73.7],[79.3,86.5],
  [80.4,76.1],[80.9,79.0],[80.1,81.7],[80.6,84.4],[80.3,86.9],[80.8,80.4],
  [81.9,78.2],[81.3,81.4],[81.6,84.4],[81.1,86.9],[81.8,76.3],[81.5,89.1],
  [82.6,78.7],[83.1,81.6],[82.3,84.3],[82.8,87.0],[82.5,89.5],[83.0,83.0],
  [84.1,80.7],[83.5,83.9],[83.8,86.9],[83.3,89.4],[84.0,78.8],[83.7,91.6],
  [84.8,81.1],[85.3,84.0],[84.5,86.7],[85.0,89.4],[84.7,91.9],[85.2,85.4],
  [86.3,83.0],[85.7,86.2],[86.0,89.2],[85.5,91.7],[86.2,81.1],[85.9,93.9],
  [87.0,83.3],[87.5,86.2],[86.7,88.9],[87.2,91.6],[86.9,94.1],[87.4,87.6],
  [88.5,85.2],[87.9,88.4],[88.2,91.4],[87.7,93.9],[88.4,83.3],[88.1,96.1],
  [89.2,85.6],[89.7,88.5],[88.9,91.2],[89.4,93.9],[89.1,96.4],[89.6,89.9],
  [90.7,87.5],[90.1,90.7],[90.4,93.7],[89.9,96.2],[90.6,85.6],[90.3,98.4],
  [91.4,87.8],[91.9,90.7],[91.1,93.4],[91.6,96.1],[91.3,98.6],[91.8,92.1],
  [92.9,89.7],[92.3,92.9],[92.6,95.9],[92.1,98.4],[92.8,87.8],[92.5,100.6],
  [93.6,90.0],[94.1,92.9],[93.3,95.6],[93.8,98.3],[93.5,100.8],[94.0,94.3],
  [95.1,91.9],[94.5,95.1],[94.8,98.1],[94.3,100.6],[95.0,90.0],[94.7,102.8],
  [95.8,92.3],[96.3,95.2],[95.5,97.9],[96.0,100.6],[95.7,103.1],[96.2,96.6],
  [97.3,94.4],[96.7,97.6],[97.0,100.6],[96.5,103.1],[97.2,92.5],[96.9,105.3],
  [98.0,94.9],[98.5,97.8],[97.7,100.5],[98.2,103.2],[97.9,105.7],[98.4,99.2],
  [99.5,97.0],[98.9,100.2],[99.2,103.2],[98.7,105.7],[99.4,95.1],[99.1,107.9]
];

// harvat pisteet nauhan ylä- ja alapuolella
const hajaYla = [
  [80.5,95.8],[82.1,97.6],[83.7,99.9],[84.6,103.2],[85.9,101.1],[86.7,104.6],[87.4,107.9],[88.2,105.3],[89.1,109.6],[90.3,107.2],
  [91.2,111.8],[92.4,109.5],[93.1,114.2],[94.5,112.0],[95.3,116.3],[96.4,114.4],[97.2,118.5],[98.1,116.7],[99.3,120.6],[100.2,118.4],
  [101.4,122.3],[102.3,120.1],[103.5,124.6],[104.2,126.8],[105.1,122.9],[106.3,128.4],[107.4,125.7],[108.2,130.6],[109.5,127.9],[110.6,131.5],
  [112.1,129.8],[113.4,133.2],[115.2,131.6],[116.8,135.4],[118.3,133.9],[119.6,137.2],[121.0,139.5]
];

const hajaAla = [
  [61.8,49.3],[63.4,52.6],[64.7,50.1],[66.2,55.4],[67.1,52.9],[68.6,57.3],[70.3,56.1],[72.5,59.7],[74.2,62.0],[75.8,61.3],
  [77.1,63.8],[78.4,60.9],[79.6,64.5],[80.9,62.2],[82.3,67.4],[83.6,65.0],[85.1,69.8],[86.4,71.5],[87.7,68.6],[89.2,73.9],
  [90.5,71.4],[91.8,76.2],[93.2,74.7],[94.6,78.9],[95.9,77.3],[97.3,81.0],[98.5,79.6],[99.8,83.5],[101.2,85.1],[102.6,87.4],
  [103.9,84.6],[105.3,89.2],[106.7,91.8],[108.1,88.7],[109.4,93.6],[110.8,95.2],[112.3,92.1],[113.7,97.5],[115.2,99.8],[116.5,96.4],
  [118.0,101.9],[119.4,104.6],[121.1,103.3],[122.7,107.2],[124.3,110.6],[126.0,112.3],[127.8,114.9],[129.5,117.4],[131.3,118.6],[133.0,120.2],
  [134.8,121.8],[136.4,122.5]
];

const fontti = "'Liberation Sans', Arial, Helvetica, sans-serif";
Chart.defaults.font.family = fontti;
Chart.defaults.font.size = 11;
Chart.defaults.color = "#000";

const pisteet = [].concat(alkuPisteet, keskiPisteet, ylaPisteet, ydinPisteet, lisaPisteet, taytePisteet, hajaYla, hajaAla)
  .map(([x, y]) => ({ x, y }));

function suora(siirto) {
  return viivanX.map(x => ({ x, y: kulmakerroin * x + vakio + siirto }));
}

function viivaSarja(nimi, siirto) {
  return {
    type: "line",
    label: nimi,
    data: suora(siirto),
    borderColor: "#000",
    borderWidth: 1,
    pointRadius: 0,
    fill: false,
    order: 0,
  };
}

// kehys ja sisäänpäin osoittavat jakoviivat
const kehysPlugin = {
  id: "kehys",
  afterDatasetsDraw(chart) {
    const { ctx, chartArea, scales } = chart;
    const l = Math.round(chartArea.left) + 0.5;
    const r = Math.round(chartArea.right) + 0.5;
    const t = Math.round(chartArea.top) + 0.5;
    const b = Math.round(chartArea.bottom) + 0.5;
    const pituus = 4;
    ctx.save();
    ctx.strokeStyle = "#000";
    ctx.lineWidth = 1;
    ctx.strokeRect(l, t, r - l, b - t);
    ctx.beginPath();
    scales.x.ticks.forEach(tk => {
      const px = Math.round(scales.x.getPixelForValue(tk.value)) + 0.5;
      ctx.moveTo(px, b); ctx.lineTo(px, b - pituus);
      ctx.moveTo(px, t); ctx.lineTo(px, t + pituus);
    });
    scales.y.ticks.forEach(tk => {
      const py = Math.round(scales.y.getPixelForValue(tk.value)) + 0.5;
      ctx.moveTo(l, py); ctx.lineTo(l + pituus, py);
      ctx.moveTo(r, py); ctx.lineTo(r - pituus, py);
    });
    ctx.stroke();
    ctx.restore();
  }
};

// selite laatikossa kuvan oikealla puolella
const selitePlugin = {
  id: "selite",
  afterDraw(chart) {
    const ctx = chart.ctx;
    const x0 = 373.5, y0 = 108.5, lev = 118, kork = 65;
    ctx.save();
    ctx.fillStyle = "#fff";
    ctx.fillRect(x0, y0, lev, kork);
    ctx.strokeStyle = "#000";
    ctx.lineWidth = 1;
    ctx.strokeRect(x0, y0, lev, kork);
    ctx.beginPath();
    ctx.moveTo(x0 + lev + 1, y0 + 1); ctx.lineTo(x0 + lev + 1, y0 + kork + 1);
    ctx.lineTo(x0 + 1, y0 + kork + 1);
    ctx.stroke();
    ctx.font = "11px " + fontti;
    ctx.textBaseline = "middle";
    ctx.fillStyle = "#000";
    chart.data.datasets.forEach((ds, i) => {
      const y = y0 + 10 + i * 14;
      if (ds.type === "line") {
        ctx.beginPath();
        ctx.moveTo(387, Math.round(y) + (i === 2 ? 0 : 0.5));
        ctx.lineTo(402, Math.round(y) + (i === 2 ? 0 : 0.5));
        ctx.stroke();
      } else {
        ctx.fillRect(392, Math.round(y) - 1, 2, 2);
      }
      ctx.fillText(ds.label, 405, y + 0.5);
    });
    ctx.restore();
  }
};

new Chart(document.getElementById("virtausKuva"), {
  type: "scatter",
  data: {
    datasets: [
      {
        label: selitteet[0],
        data: pisteet,
        pointStyle: "rect",
        pointRadius: 2.4,
        pointBorderWidth: 0,
        backgroundColor: "#000",
        borderColor: "#000",
        order: 1,
      },
      viivaSarja(selitteet[1], hajonta),
      viivaSarja(selitteet[2], 0),
      viivaSarja(selitteet[3], -hajonta),
    ],
  },
  options: {
    responsive: false,
    devicePixelRatio: 1,
    animation: false,
    events: [],
    layout: { padding: { left: 0, right: 137, top: 0, bottom: 0 } },
    plugins: {
      legend: { display: false },
      tooltip: { enabled: false },
      title: {
        display: true,
        text: "Lentokenttä virtaus, 10 min arvot",
        fullSize: false,
        color: "#000",
        font: { size: 11, weight: "normal" },
        padding: { top: 7, bottom: 7 },
      },
    },
    scales: {
      x: {
        type: "linear",
        min: 0,
        max: 160,
        afterBuildTicks: s => { s.ticks = xTiks.map(v => ({ value: v })); },
        afterFit: s => { s.height = 34; },
        grid: { display: false, drawTicks: false },
        border: { display: false },
        ticks: { padding: 3, color: "#000", maxRotation: 0 },
        title: { display: true, text: "estim l/s", color: "#000", padding: { top: 0, bottom: 3 } },
      },
      y: {
        type: "linear",
        min: 0,
        max: 160,
        afterBuildTicks: s => { s.ticks = yTiks.map(v => ({ value: v })); },
        afterFit: s => { s.width = 48; },
        grid: { display: false, drawTicks: false },
        border: { display: false },
        ticks: { padding: 4, color: "#000" },
        title: { display: true, text: "oikea l/s", color: "#000", padding: { top: 12, bottom: 0 } },
      },
    },
  },
  plugins: [kehysPlugin, selitePlugin],
});
</script>
</body>
</html>
